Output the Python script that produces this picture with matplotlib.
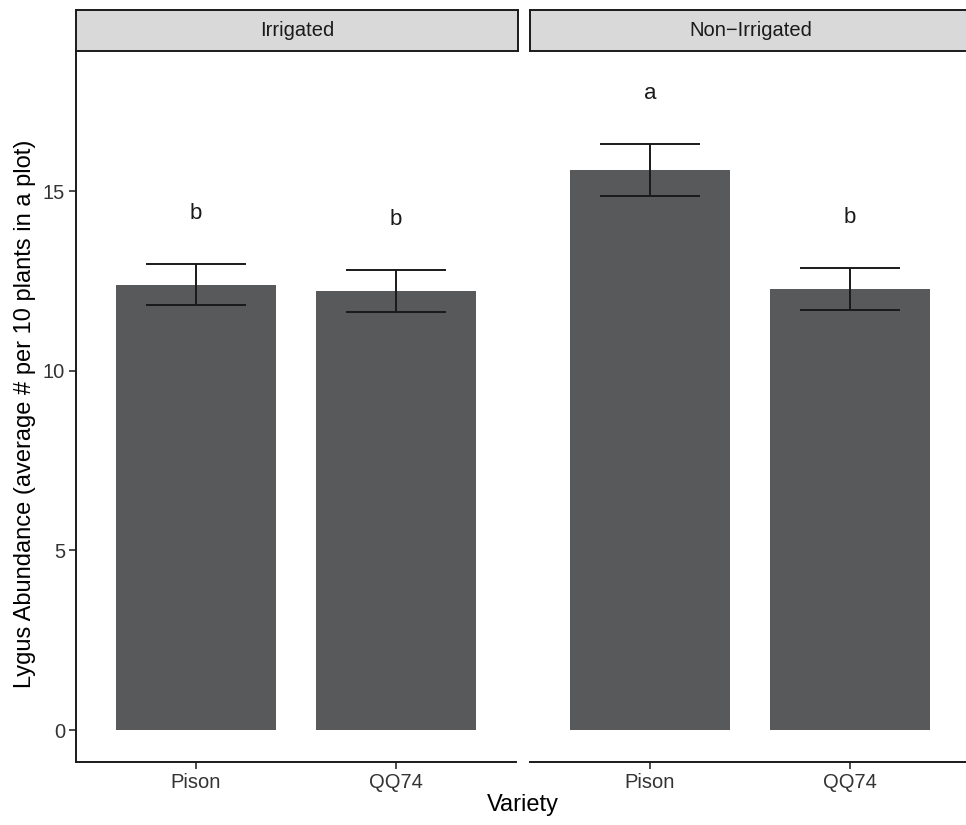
import numpy as np
import matplotlib.pyplot as plt

plt.rcParams['font.family'] = ['Liberation Sans', 'DejaVu Sans']

# Lygus counts per treatment (mean and standard error)
treatments = ["Irrigated", "Non\u2212Irrigated"]
varieties = ["Pison", "QQ74"]
irrigated_mean = [12.40, 12.22]
irrigated_se = [0.58, 0.58]
nonirrigated_mean = [15.59, 12.27]
nonirrigated_se = [0.72, 0.59]
irrigated_letters = ["b", "b"]
nonirrigated_letters = ["a", "b"]

panels = [
    (irrigated_mean, irrigated_se, irrigated_letters),
    (nonirrigated_mean, nonirrigated_se, nonirrigated_letters),
]

W, H = 966, 825
fig = plt.figure(figsize=(W / 100, H / 100), dpi=100)

bar_col = "#58595b"
ink = "#1a1a1a"
tick_col = "#333333"
panel_left = [76, 530]
panel_w = 440
top_px, bottom_px, strip_top = 51, 762, 10

x = np.arange(1, len(varieties) + 1)
for i, (means, se, letters) in enumerate(panels):
    l = panel_left[i] / W
    ax = fig.add_axes([l, 1 - bottom_px / H, panel_w / W, (bottom_px - top_px) / H])
    means = np.array(means)
    se = np.array(se)
    ax.bar(x, means, width=0.8, color=bar_col, zorder=2)
    ax.errorbar(x, means, yerr=se, fmt="none", ecolor=ink, elinewidth=1.4,
                capsize=0, zorder=3)
    # horizontal caps, half a category wide
    for xi, m, s in zip(x, means, se):
        for yy in (m - s, m + s):
            ax.plot([xi - 0.25, xi + 0.25], [yy, yy], color=ink, lw=1.4,
                    solid_capstyle="butt", zorder=3)
    for xi, m, s, t in zip(x, means, se, letters):
        ax.text(xi, m + s + 1.4, t, ha="center", va="center", fontsize=16,
                color=ink)

    ax.set_xlim(0.4, 2.6)
    ax.set_ylim(-0.89, 18.9)
    ax.set_xticks(x)
    ax.set_xticklabels(varieties, fontsize=14.5, color=tick_col)
    ax.spines["top"].set_visible(False)
    ax.spines["right"].set_visible(False)
    ax.spines["bottom"].set_linewidth(1.4)
    ax.spines["bottom"].set_color(ink)
    ax.spines["left"].set_linewidth(1.4)
    ax.spines["left"].set_color(ink)
    ax.tick_params(axis="both", length=5, width=1.1, color=ink, pad=3)
    if i == 0:
        ax.set_yticks([0, 5, 10, 15])
        ax.set_yticklabels(["0", "5", "10", "15"], fontsize=14.5, color=tick_col)
    else:
        ax.spines["left"].set_visible(False)
        ax.set_yticks([])

    # facet strip
    sax = fig.add_axes([l, 1 - top_px / H, (panel_w + 2) / W, (top_px - strip_top) / H])
    sax.set_facecolor("#d9d9d9")
    sax.set_xticks([])
    sax.set_yticks([])
    for sp in sax.spines.values():
        sp.set_linewidth(1.4)
        sp.set_color(ink)
    sax.text(0.5, 0.5, treatments[i], ha="center", va="center", fontsize=14.5,
             color=ink, transform=sax.transAxes)

fig.text((76 + 970) / 2 / W, 1 - 805 / H, "Variety", ha="center", va="center",
         fontsize=17, color="black")
fig.text(25 / W, 1 - 414 / H,
         "Lygus Abundance (average # per 10 plants in a plot)",
         rotation=90, ha="center", va="center", fontsize=17, color="black")

fig.savefig("out.png", dpi=100)
